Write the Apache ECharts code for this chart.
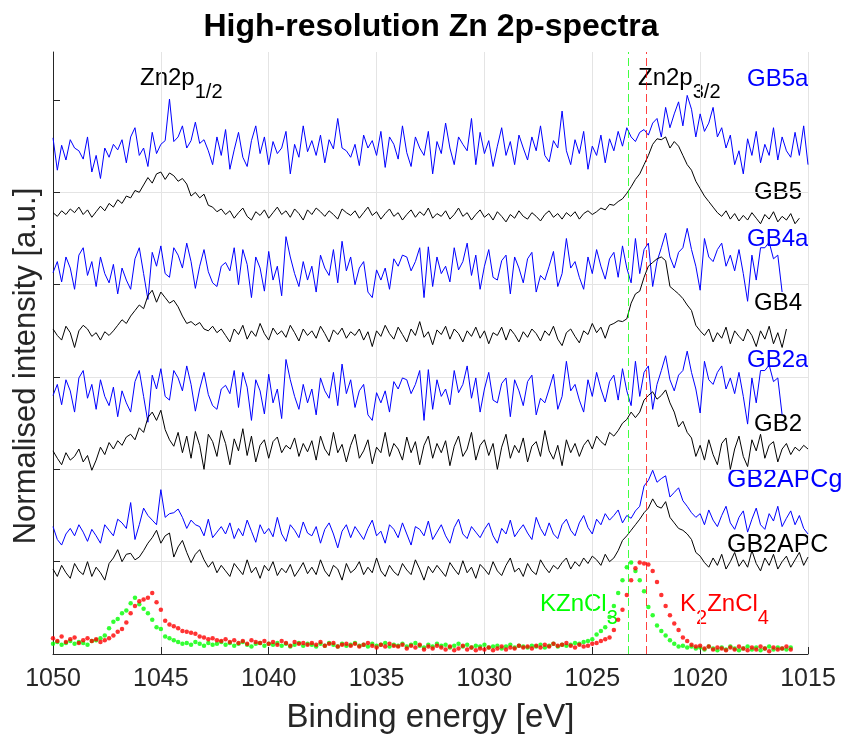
<!DOCTYPE html>
<html>
<head>
<meta charset="utf-8">
<script src="https://cdn.jsdelivr.net/npm/echarts@6/dist/echarts.min.js"></script>
<style>
html, body { margin: 0; padding: 0; background: #fff; }
#chart { width: 846px; height: 744px; }
</style>
</head>
<body>
<div id="chart"></div>
<script>
const fontFamily = '"Liberation Sans", Arial, Helvetica, sans-serif';

// binding energy grid: first point and step (eV), scanned from high to low
const eStart = 1050;
const eStep = 0.2;

// normalised intensities x100, already offset for stacking
const gb5a = [
  559,524,551,535,557,548,545,536,560,522, 540,515,548,538,552,546,557,532,560,570,
  540,548,528,565,542,552,556,601,555,560, 572,548,556,576,553,557,545,530,560,540,
  568,525,546,565,538,528,556,572,542,560, 530,555,542,548,566,520,552,538,572,544,
  556,540,562,532,557,547,580,548,545,538, 552,529,562,548,556,540,566,527,560,552,
  536,572,543,528,560,548,540,566,520,555, 542,575,548,530,560,552,545,580,530,565,
  542,556,528,550,570,540,555,530,562,548, 535,560,545,572,540,533,556,548,588,545,
  530,557,542,566,525,550,540,562,532,558, 545,566,550,570,560,555,565,568,562,575,
  580,560,592,570,585,598,572,605,590,560, 585,566,575,592,560,570,548,562,530,545,
  520,558,540,566,532,552,540,570,535,560, 545,538,565,540,572,530
];
const gb5 = [
  478,474,480,476,482,478,484,476,481,473, 479,485,480,488,484,492,488,496,494,502,
  500,508,516,510,520,522,514,521,518,512, 515,509,496,500,494,498,486,484,479,482,
  476,480,472,478,483,474,470,479,475,481, 472,478,484,476,480,473,482,477,470,481,
  476,483,479,474,480,476,471,482,478,475, 480,472,478,484,475,479,471,477,482,474,
  478,470,476,481,473,479,475,483,472,477, 474,480,471,476,483,474,478,470,476,481,
  473,477,470,479,474,468,476,472,480,474, 471,478,474,469,476,480,473,477,471,478,
  474,479,471,477,480,476,479,483,481,487, 486,490,493,499,506,514,520,530,540,552,
  558,557,560,548,555,550,540,530,524,512, 504,496,490,484,478,474,480,471,477,469,
  475,470,478,472,466,476,471,479,468,474, 470,477,466,472
];
const gb4a = [
  413,425,403,430,418,395,432,440,410,425, 398,430,412,402,422,390,418,405,395,428,
  440,412,384,435,420,442,412,408,440,432, 418,445,425,396,420,438,414,402,398,420,
  424,415,440,400,438,422,386,430,418,393, 436,405,420,388,452,430,412,398,425,405,
  420,392,432,418,410,438,402,447,415,430, 400,418,425,392,386,416,405,418,395,428,
  420,432,430,415,425,440,386,441,398,430, 412,420,403,440,416,425,445,410,432,395,
  420,438,408,405,426,432,390,430,418,402, 428,435,392,410,405,420,436,398,412,450,
  418,425,408,395,430,412,438,420,406,428, 435,408,442,418,402,450,412,438,445,398,
  425,440,456,430,418,435,440,461,438,420, 394,450,430,425,438,445,420,432,415,438,
  412,382,432,405,440,440,446,428,432,392
];
const gb4 = [
  352,345,340,355,348,332,350,356,352,344, 348,340,349,345,350,356,362,358,366,372,
  378,374,388,394,381,392,386,380,383,376, 366,358,360,356,359,352,350,355,348,352,
  345,338,352,346,356,341,350,344,358,347, 340,353,346,350,343,356,348,339,352,345,
  350,342,355,347,338,351,346,353,342,349, 345,352,340,349,333,350,344,356,347,341,
  354,346,338,352,345,360,343,349,335,351, 346,355,341,352,347,338,350,344,354,342,
  350,336,348,345,354,340,352,346,338,349, 343,352,347,339,350,345,355,341,334,348,
  352,344,337,350,346,358,348,354,342,356, 358,361,360,363,380,390,393,408,420,424,
  428,430,426,398,394,390,385,378,372,356, 350,345,352,338,348,342,354,336,350,344,
  339,352,345,333,350,341,355,336,348,332, 352
];
const gb2a = [
  280,292,270,297,285,262,299,307,277,292, 265,297,279,269,289,257,285,272,262,295,
  307,279,251,302,287,309,279,275,307,299, 285,312,292,263,287,305,281,269,265,287,
  291,282,307,267,305,289,253,297,285,260, 303,272,287,255,319,297,279,265,292,272,
  287,259,299,285,277,305,269,314,282,297, 267,285,292,259,253,283,272,285,262,295,
  287,299,297,282,292,307,253,308,265,297, 279,287,270,307,283,292,312,277,299,262,
  287,305,275,272,293,299,257,297,285,269, 295,302,259,277,272,287,303,265,279,317,
  285,292,275,262,297,279,305,287,273,295, 302,275,309,285,269,317,279,305,312,265,
  292,307,323,297,285,302,307,328,305,287, 261,317,297,292,305,312,287,299,282,305,
  279,249,299,272,307,307,313,295,299,259
];
const gb2 = [
  220,212,205,218,210,214,222,208,215,199, 210,224,216,229,222,231,226,235,238,232,
  245,240,256,262,253,264,243,232,225,240, 218,236,212,241,226,200,238,230,214,242,
  228,205,233,220,244,215,236,208,226,232, 212,230,235,218,226,222,234,214,228,219,
  231,210,236,222,215,240,218,227,208,226, 238,212,220,232,206,224,218,240,214,228,
  222,210,235,218,230,205,226,236,212,228, 218,231,204,225,236,214,222,240,210,226,
  232,215,228,200,224,238,212,226,218,234, 208,225,230,214,242,220,211,226,204,232,
  218,228,214,226,232,222,236,230,226,240, 236,242,250,254,262,256,262,275,280,284,
  276,280,286,272,262,246,252,240,234,214, 226,210,232,216,205,228,234,200,222,236,
  214,203,232,220,238,212,226,230,208,222, 228,216,224,220,226,222
];
const gb2apcg = [
  138,124,118,130,136,128,140,132,122,135, 128,120,140,134,128,146,142,136,164,124,
  140,158,150,145,140,178,148,152,153,157, 148,136,145,140,138,128,146,126,132,138,
  130,142,125,136,128,145,133,121,140,130, 136,127,148,130,122,140,134,126,143,131,
  128,138,120,135,142,130,115,133,140,126, 138,131,124,136,145,128,133,120,140,135,
  126,142,130,118,138,135,128,144,124,132, 140,128,120,137,146,130,125,138,132,126,
  135,142,128,120,136,130,145,127,134,140, 131,124,148,136,128,142,130,125,140,146,
  134,128,142,150,137,130,146,140,152,145, 150,156,142,150,147,155,160,182,188,199,
  186,190,193,170,175,180,166,160,153,148, 152,140,156,145,138,150,160,142,135,148,
  155,132,146,158,140,135,152,144,160,138, 147,155,140,150,136,130
];
const gb2apc = [
  92,84,96,88,82,98,90,86,100,84, 94,88,80,98,104,113,100,108,109,102,
  105,112,120,126,134,120,128,131,105,116, 123,110,99,108,113,102,94,100,88,96,
  90,84,98,92,86,102,88,94,82,96, 90,100,85,93,88,97,84,91,99,87,
  94,86,102,90,84,96,92,80,98,88, 92,100,86,94,88,104,90,84,96,89,
  85,98,91,86,102,92,80,95,88,96, 90,84,99,92,86,101,88,94,82,97,
  92,86,100,90,85,96,104,89,93,84, 98,90,86,102,94,88,96,92,99,104,
  92,100,95,104,98,106,102,96,108,100, 104,112,123,128,134,140,146,153,158,168,
  160,158,165,148,142,136,134,130,124,110, 106,99,94,104,96,108,92,100,110,95,
  102,94,112,98,90,104,96,108,92,100, 106,94,102,110,96,105
];
const kzncl3 = [
  11,13,10,12,14,11,13,12,10,14, 15,17,20,28,35,38,44,47,55,61,
  54,49,44,37,29,27,19,17,15,13, 11,12,10,13,11,9,12,10,11,13,
  10,12,9,11,13,10,8,11,12,9, 11,10,12,9,11,8,10,12,9,11,
  10,8,11,9,12,10,8,11,9,10, 12,9,10,8,11,9,10,12,8,10,
  9,11,8,10,12,9,7,10,8,11, 9,10,7,9,11,8,10,7,9,8,
  10,7,8,9,6,8,10,7,9,8, 7,9,8,10,7,9,11,8,10,9,
  10,12,11,13,14,16,21,25,29,40, 52,66,80,94,99,90,80,68,51,42,
  31,25,20,15,11,8,9,7,8,6, 7,5,8,6,4,7,5,8,6,4,
  6,8,5,7,4,6,8,5,7,6, 5,7
];
const k2zncl4 = [
  17,14,19,13,16,18,12,15,17,14, 16,13,15,17,20,24,27,34,44,52,
  57,59,61,66,56,48,36,32,30,28, 25,24,23,22,19,18,16,17,15,14,
  16,13,15,12,14,11,15,13,12,14, 11,13,10,14,12,9,13,11,12,10,
  12,10,13,9,11,12,8,10,11,9, 11,8,10,12,9,7,10,8,11,9,
  8,10,6,9,7,10,5,8,6,9, 7,5,8,4,6,9,5,7,4,6,
  5,7,4,6,8,5,7,6,9,7, 8,6,9,7,10,8,11,9,10,12,
  9,7,10,8,9,11,12,14,16,18, 26,37,48,64,80,93,99,98,97,90,
  78,64,52,42,33,26,18,14,10,8, 9,6,8,5,7,6,4,7,5,8,
  6,4,7,5,8,6,3,7,5,6, 8,5
];

// reference peak positions of the two salts [eV]
const kzncl3Peak = 1023.35;
const k2zncl4Peak = 1022.5;
const yTicks = [0, 1, 2, 3, 4, 5, 6];

const toPoints = vals => vals.map((v, i) => [+(eStart - i * eStep).toFixed(2), v / 100]);

const traces = [
  { name: 'GB5a', data: gb5a, color: '#0000ff' },
  { name: 'GB5', data: gb5, color: '#000000' },
  { name: 'GB4a', data: gb4a, color: '#0000ff' },
  { name: 'GB4', data: gb4, color: '#000000' },
  { name: 'GB2a', data: gb2a, color: '#0000ff' },
  { name: 'GB2', data: gb2, color: '#000000' },
  { name: 'GB2APCg', data: gb2apcg, color: '#0000ff' },
  { name: 'GB2APC', data: gb2apc, color: '#000000' }
];

const series = traces.map(t => ({
  type: 'line',
  name: t.name,
  data: toPoints(t.data),
  showSymbol: false,
  symbol: 'none',
  lineStyle: { color: t.color, width: 1 },
  itemStyle: { color: t.color },
  silent: true,
  animation: false,
  z: 3
}));

const peakLine = (x, color) => ({
  silent: true,
  animation: false,
  symbol: ['none', 'none'],
  label: { show: false },
  lineStyle: { color: color, type: [8, 4], width: 1, opacity: 0.75 },
  data: [{ xAxis: x }]
});

series.unshift({
  type: 'scatter',
  name: 'K2ZnCl4',
  data: toPoints(k2zncl4),
  symbolSize: 4.5,
  itemStyle: { color: '#ff0000' },
  silent: true,
  animation: false,
  markLine: peakLine(k2zncl4Peak, '#ff0000')
});
series.unshift({
  type: 'scatter',
  name: 'KZnCl3',
  data: toPoints(kzncl3),
  symbolSize: 4.5,
  itemStyle: { color: '#00ff00' },
  silent: true,
  animation: false,
  markLine: peakLine(kzncl3Peak, '#00ff00')
});

// text annotations, placed in pixels
const mainFont = '24px ' + fontFamily;
const subFont = '20px ' + fontFamily;
const measureCtx = document.createElement('canvas').getContext('2d');
function textWidth(txt, font) {
  measureCtx.font = font;
  return measureCtx.measureText(txt).width;
}

function textEl(x, y, color, txt, font, align, rotation) {
  return {
    type: 'text',
    x: x,
    y: y,
    rotation: rotation || 0,
    silent: true,
    style: {
      text: txt,
      fill: color,
      font: font || mainFont,
      align: align || 'left',
      verticalAlign: 'middle'
    }
  };
}

// parts alternate between normal text and subscripts
function subLabel(x, y, color, parts) {
  const els = [];
  let cx = x;
  parts.forEach((p, i) => {
    const isSub = i % 2 === 1;
    const font = isSub ? subFont : mainFont;
    els.push(textEl(cx, isSub ? y + 14 : y, color, p, font));
    cx += textWidth(p, font);
  });
  return els;
}

const graphic = [
  textEl(431, 27, '#000', 'High-resolution Zn 2p-spectra', 'bold 32px ' + fontFamily, 'center'),
  textEl(26, 366, '#262626', 'Normalised intensity [a.u.]', '31px ' + fontFamily, 'center', Math.PI / 2),
  ...subLabel(140, 78, '#000', ['Zn2p', '1/2']),
  ...subLabel(638, 78, '#000', ['Zn2p', '3/2']),
  textEl(747, 79, '#0000ff', 'GB5a'),
  textEl(754, 192, '#000000', 'GB5'),
  textEl(747, 239, '#0000ff', 'GB4a'),
  textEl(754, 303, '#000000', 'GB4'),
  textEl(747, 360, '#0000ff', 'GB2a'),
  textEl(754, 424, '#000000', 'GB2'),
  textEl(727, 480, '#0000ff', 'GB2APCg', '25px ' + fontFamily),
  textEl(727, 545, '#000000', 'GB2APC', '25px ' + fontFamily),
  ...subLabel(540, 604, '#00ff00', ['KZnCl', '3']),
  ...subLabel(680, 604, '#ff0000', ['K', '2', 'ZnCl', '4'])
];

const chart = echarts.init(document.getElementById('chart'));
chart.setOption({
  animation: false,
  backgroundColor: '#ffffff',
  textStyle: { fontFamily: fontFamily },
  grid: { left: 53, right: 38, top: 52, bottom: 90, containLabel: false },
  xAxis: {
    type: 'value',
    inverse: true,
    min: 1015,
    max: 1050,
    interval: 5,
    name: 'Binding energy [eV]',
    nameLocation: 'middle',
    nameGap: 47,
    nameTextStyle: { fontSize: 33, color: '#262626', fontFamily: fontFamily },
    axisLine: { show: true, onZero: false, lineStyle: { color: '#262626', width: 1 } },
    axisTick: { show: true, inside: true, length: 7, lineStyle: { color: '#262626', width: 1 } },
    axisLabel: {
      fontSize: 25,
      color: '#262626',
      margin: 13,
      fontFamily: fontFamily,
      formatter: v => String(v)
    },
    splitLine: { show: true, lineStyle: { color: '#e4e4e4', width: 1 } }
  },
  yAxis: {
    type: 'value',
    min: 0,
    max: 6.52,
    interval: 1,
    axisLine: { show: true, lineStyle: { color: '#262626', width: 1 } },
    axisTick: {
      show: true,
      inside: true,
      length: 7,
      customValues: yTicks,
      lineStyle: { color: '#262626', width: 1 }
    },
    axisLabel: { show: false },
    splitLine: { show: true, showMaxLine: false, lineStyle: { color: '#e4e4e4', width: 1 } }
  },
  graphic: graphic,
  series: series
});
</script>
</body>
</html>
